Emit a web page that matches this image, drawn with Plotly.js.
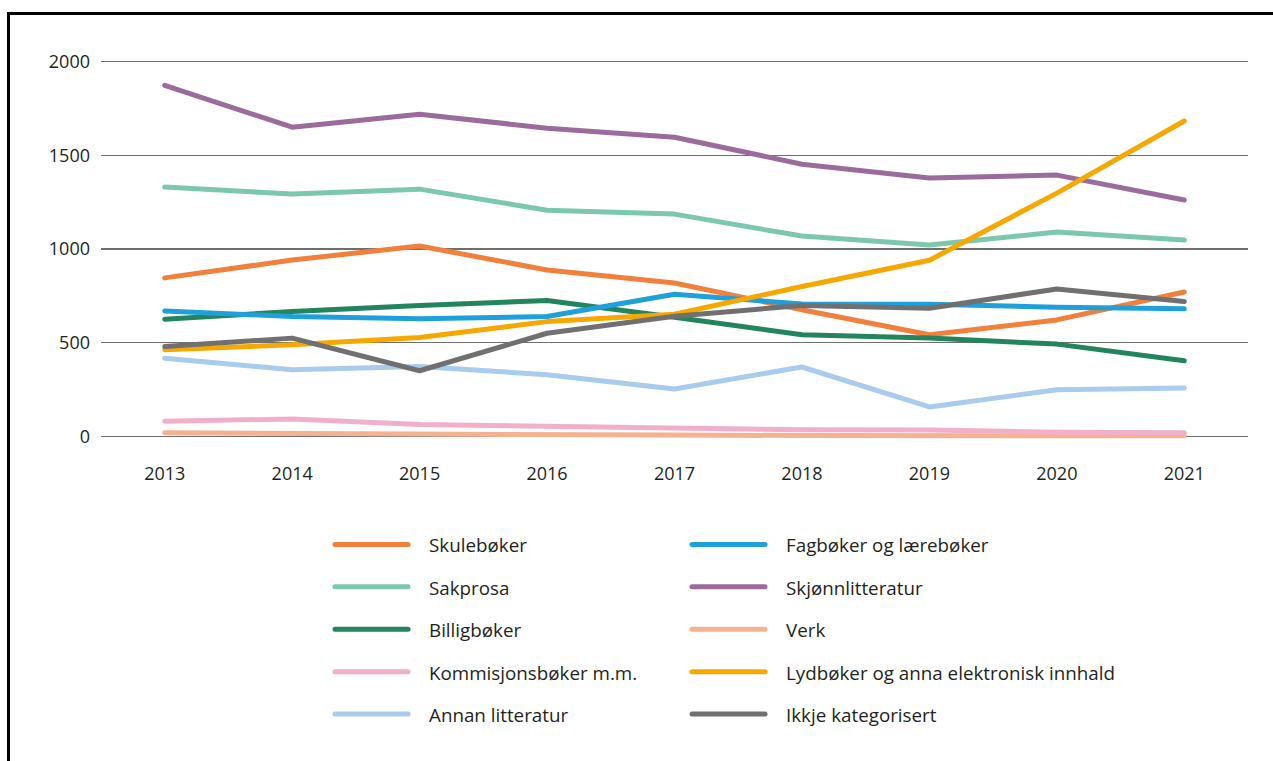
<!DOCTYPE html>
<html>
<head>
<meta charset="utf-8">
<script src="https://cdn.plot.ly/plotly-3.0.1.min.js"></script>
<style>
  html, body { margin: 0; padding: 0; background: #fff; }
  #wrap { position: relative; width: 1273px; height: 761px; overflow: hidden; }
  #chart { width: 1273px; height: 761px; }
  #frame { position: absolute; left: 7px; top: 12px; width: 1300px; height: 800px;
           border-top: 3px solid #000; border-left: 3px solid #000; pointer-events: none; }
  .js-line, .shapelayer path { stroke-linecap: round !important; stroke-linejoin: round !important; }
</style>
</head>
<body>
<div id="wrap">
  <div id="chart"></div>
  <div id="frame"></div>
</div>
<script>
const years = [2013, 2014, 2015, 2016, 2017, 2018, 2019, 2020, 2021];

const skulebøker        = [846, 941, 1016, 888, 819, 676, 543, 622, 771];
const fagbøker          = [670, 640, 628, 640, 759, 707, 706, 690, 681];
const sakprosa          = [1330, 1293, 1319, 1207, 1186, 1069, 1021, 1090, 1048];
const skjønnlitteratur  = [1872, 1649, 1718, 1644, 1596, 1452, 1378, 1394, 1261];
const billigbøker       = [626, 667, 699, 725, 636, 543, 525, 493, 404];
const verk              = [20, 16, 11, 9, 8, 6, 5, 4, 4];
const kommisjonsbøker   = [82, 94, 64, 55, 46, 37, 35, 23, 20];
const lydbøker          = [463, 489, 528, 613, 652, 800, 940, 1298, 1682];
const annanLitteratur   = [418, 356, 374, 330, 254, 371, 158, 250, 259];
const ikkjeKategorisert = [480, 525, 351, 551, 642, 699, 684, 787, 720];

const yTicks = [0, 500, 1000, 1500, 2000];

const seriesNames = [
  'Skulebøker', 'Fagbøker og lærebøker',
  'Sakprosa', 'Skjønnlitteratur',
  'Billigbøker', 'Verk',
  'Kommisjonsbøker m.m.', 'Lydbøker og anna elektronisk innhald',
  'Annan litteratur', 'Ikkje kategorisert'
];
const seriesValues = [
  skulebøker, fagbøker, sakprosa, skjønnlitteratur, billigbøker,
  verk, kommisjonsbøker, lydbøker, annanLitteratur, ikkjeKategorisert
];
const seriesColors = [
  '#f0803c', '#1fa0db', '#7bc8ad', '#9b6b9e', '#22855e',
  '#f5b291', '#f2afc9', '#f7a800', '#a8cbee', '#707070'
];
// drawing order (back to front)
const drawOrder = [5, 6, 8, 2, 3, 0, 4, 1, 7, 9];

const traces = drawOrder.map(i => ({
  type: 'scatter', mode: 'lines',
  x: years, y: seriesValues[i], name: seriesNames[i],
  line: { color: seriesColors[i], width: 5 },
  showlegend: false, hoverinfo: 'x+y+name'
}));

// plot area geometry in pixels
const W = 1273, H = 761;
const plotL = 101, plotR = 1248, plotT = 51.6, plotB = 446.4;
const px2paperX = px => (px - plotL) / (plotR - plotL);
const px2paperY = py => (plotB - py) / (plotB - plotT);

// custom legend, two columns, row-major order
const colSwatchX = [335, 692];
const colTextX = [427, 784];
const rowY = [545, 587.5, 630, 672.5, 715];
const shapes = [];
const annotations = [];
seriesNames.forEach((name, i) => {
  const col = i % 2, row = Math.floor(i / 2);
  shapes.push({
    type: 'line', xref: 'paper', yref: 'paper',
    x0: px2paperX(colSwatchX[col]), x1: px2paperX(colSwatchX[col] + 73),
    y0: px2paperY(rowY[row]), y1: px2paperY(rowY[row]),
    line: { color: seriesColors[i], width: 5 }
  });
  annotations.push({
    xref: 'paper', yref: 'paper', showarrow: false,
    x: px2paperX(colTextX[col]), y: px2paperY(rowY[row] + 1),
    xanchor: 'left', yanchor: 'middle', text: name,
    font: { family: 'Open Sans, sans-serif', size: 18.8, color: '#231f20' }
  });
});

const layout = {
  width: W, height: H,
  margin: { l: plotL, r: W - plotR, t: plotT, b: H - plotB, pad: 0 },
  paper_bgcolor: '#ffffff', plot_bgcolor: '#ffffff',
  font: { family: 'Open Sans, sans-serif', size: 18, color: '#231f20' },
  showlegend: false,
  xaxis: {
    range: [2012.5, 2021.5], tickvals: years, ticktext: years.map(String),
    showgrid: false, zeroline: false, showline: false, ticks: '',
    ticklabelstandoff: 15,
    tickfont: { size: 18, color: '#231f20' }
  },
  yaxis: {
    range: [-50, 2050], tickvals: yTicks, ticktext: yTicks.map(String),
    showgrid: true, gridcolor: '#6e6e6e', gridwidth: 1.3,
    zeroline: false, showline: false, ticks: '',
    ticklabelstandoff: 10,
    tickfont: { size: 18, color: '#231f20' }
  },
  shapes: shapes,
  annotations: annotations
};

Plotly.newPlot('chart', traces, layout, { displayModeBar: false, staticPlot: true });
</script>
</body>
</html>
